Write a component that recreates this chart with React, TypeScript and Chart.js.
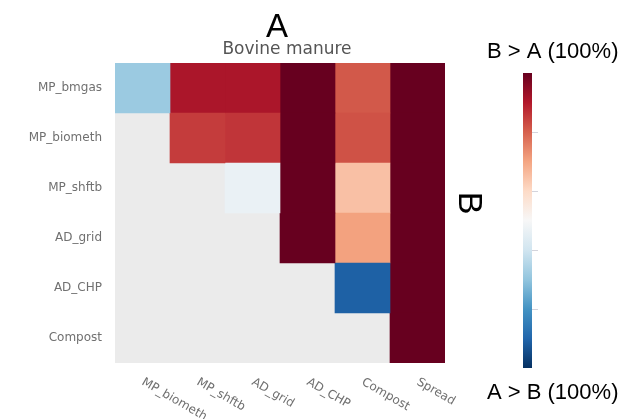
import React, { useEffect, useRef } from "react";
import { Chart, registerables } from "chart.js";

Chart.register(...registerables);

// ---- data ----
const rowLabels = ["MP_bmgas", "MP_biometh", "MP_shftb", "AD_grid", "AD_CHP", "Compost"];
const colLabels = ["MP_biometh", "MP_shftb", "AD_grid", "AD_CHP", "Compost", "Spread"];

// share of runs where B > A (positive) or A > B (negative), -1..1
const valuesMPbmgas = [-0.37, 0.82, 0.82, 1, 0.62, 1];
const valuesMPbiometh = [null, 0.7, 0.72, 1, 0.64, 1];
const valuesMPshftb = [null, null, -0.07, 1, 0.3, 1];
const valuesADgrid = [null, null, null, 1, 0.41, 1];
const valuesADCHP = [null, null, null, null, -0.82, 1];
const valuesCompost = [null, null, null, null, null, 1];

const rowValues: (number | null)[][] = [
  valuesMPbmgas,
  valuesMPbiometh,
  valuesMPshftb,
  valuesADgrid,
  valuesADCHP,
  valuesCompost,
];

const colorbarRange = [-1, 1];
const colorbarTicks = [-0.6, -0.2, 0.2, 0.6];

const chartTitle = "Bovine manure";
const topLabel = "A";
const sideLabel = "B";
const cbTopLabel = "B > A (100%)";
const cbBottomLabel = "A > B (100%)";

// RdBu_r colormap stops
const rdbuStops = [
  "#053061", "#2166ac", "#4393c3", "#92c5de", "#d1e5f0", "#f7f7f7",
  "#fddbc7", "#f4a582", "#d6604d", "#b2182b", "#67001f",
];

function hexToRgb(h: string) {
  const n = parseInt(h.slice(1), 16);
  return [(n >> 16) & 255, (n >> 8) & 255, n & 255];
}

function rdbu(v: number) {
  const t = Math.min(1, Math.max(0, (v + 1) / 2)) * 10;
  const i = Math.min(9, Math.floor(t));
  const f = t - i;
  const a = hexToRgb(rdbuStops[i]);
  const b = hexToRgb(rdbuStops[i + 1]);
  const c = a.map((x, k) => Math.round(x + (b[k] - x) * f));
  return `rgb(${c[0]},${c[1]},${c[2]})`;
}

const W = 641;
const H = 419;

export default function App() {
  const mainRef = useRef<HTMLCanvasElement>(null);
  const cbRef = useRef<HTMLCanvasElement>(null);

  useEffect(() => {
    const bgPlugin = {
      id: "bgFill",
      beforeDatasetsDraw(chart: any) {
        const { ctx, chartArea } = chart;
        ctx.save();
        ctx.fillStyle = "#ebebeb";
        ctx.fillRect(chartArea.left, chartArea.top, chartArea.right - chartArea.left, chartArea.bottom - chartArea.top);
        ctx.restore();
      },
    };

    const textPlugin = {
      id: "texts",
      afterDraw(chart: any) {
        const { ctx, chartArea } = chart;
        const xs = chart.scales.x;
        ctx.save();
        // x tick labels, rotated clockwise
        ctx.fillStyle = "#707070";
        ctx.font = "12px 'DejaVu Sans'";
        ctx.textAlign = "left";
        ctx.textBaseline = "top";
        colLabels.forEach((lab, j) => {
          const x = xs.getPixelForValue(j + 0.5);
          ctx.save();
          ctx.translate(x + 3, chartArea.bottom + 13);
          ctx.rotate((30 * Math.PI) / 180);
          ctx.fillText(lab, 0, 0);
          ctx.restore();
        });
        // title
        ctx.fillStyle = "#555";
        ctx.font = "17px 'DejaVu Sans'";
        ctx.textAlign = "center";
        ctx.textBaseline = "alphabetic";
        ctx.fillText(chartTitle, 287, 54);
        // A
        ctx.fillStyle = "#000";
        ctx.font = "33px 'Liberation Sans'";
        ctx.fillText(topLabel, 277, 37);
        // B rotated
        ctx.save();
        ctx.translate(471, 203);
        ctx.rotate(Math.PI / 2);
        ctx.font = "34px 'Liberation Sans'";
        ctx.textAlign = "center";
        ctx.fillText(sideLabel, 0, 12);
        ctx.restore();
        // colorbar labels
        ctx.font = "22px 'Liberation Sans'";
        ctx.textAlign = "left";
        ctx.fillText(cbTopLabel, 487, 58);
        ctx.fillText(cbBottomLabel, 487, 399);
        ctx.restore();
      },
    };

    const main = new Chart(mainRef.current!, {
      type: "bar",
      data: {
        labels: rowLabels,
        datasets: colLabels.map((col, j) => ({
          label: col,
          data: rowValues.map((row) => (row[j] === null ? null : [j, j + 1])) as any,
          backgroundColor: rowValues.map((row) =>
            row[j] === null ? "rgba(0,0,0,0)" : rdbu(row[j] as number)
          ),
          borderWidth: 0,
          barPercentage: 1,
          categoryPercentage: 1,
          grouped: false,
        })),
      },
      options: {
        indexAxis: "y",
        animation: false,
        responsive: false,
        layout: { padding: { left: 0, top: 63, right: 196, bottom: 56 } },
        plugins: {
          legend: { display: false },
          tooltip: { enabled: false },
        },
        scales: {
          x: { type: "linear", min: 0, max: 6, display: false },
          y: {
            type: "category",
            grid: { display: false, drawTicks: false },
            border: { display: false },
            ticks: {
              color: "#707070",
              font: { family: "'DejaVu Sans'", size: 12 },
              padding: 13,
            },
            afterFit: (s: any) => {
              s.width = 115;
            },
          },
        },
      },
      plugins: [bgPlugin, textPlugin],
    });

    const cb = new Chart(cbRef.current!, {
      type: "bar",
      data: {
        labels: [""],
        datasets: [
          {
            data: [colorbarRange] as any,
            backgroundColor: (ctx: any) => {
              const chart = ctx.chart;
              const area = chart.chartArea;
              if (!area) return rdbuStops[5];
              const g = chart.ctx.createLinearGradient(0, area.bottom, 0, area.top);
              rdbuStops.forEach((c, i) => g.addColorStop(i / 10, c));
              return g;
            },
            borderWidth: 0,
            barPercentage: 1,
            categoryPercentage: 1,
          },
        ],
      },
      options: {
        animation: false,
        responsive: false,
        layout: { padding: { left: 23, right: 20, top: 73, bottom: 51 } },
        plugins: { legend: { display: false }, tooltip: { enabled: false } },
        scales: {
          x: { display: false },
          y: {
            position: "right",
            min: colorbarRange[0],
            max: colorbarRange[1],
            afterBuildTicks: (s: any) => {
              s.ticks = colorbarTicks.map((v) => ({ value: v }));
            },
            ticks: { display: false },
            grid: { drawOnChartArea: false, drawTicks: true, tickLength: 6, color: "#d4d4dc" },
            border: { display: false },
            afterFit: (s: any) => {
              s.width = 8;
            },
          },
        },
      },
    });

    return () => {
      main.destroy();
      cb.destroy();
    };
  }, []);

  return (
    <div style={{ position: "absolute", left: 0, top: 0, width: W, height: H, background: "#fff" }}>
      <canvas
        ref={mainRef}
        width={W}
        height={H}
        style={{ position: "absolute", left: 0, top: 0, width: W, height: H }}
      />
      <canvas
        ref={cbRef}
        width={60}
        height={H}
        style={{ position: "absolute", left: 500, top: 0, width: 60, height: H }}
      />
    </div>
  );
}
